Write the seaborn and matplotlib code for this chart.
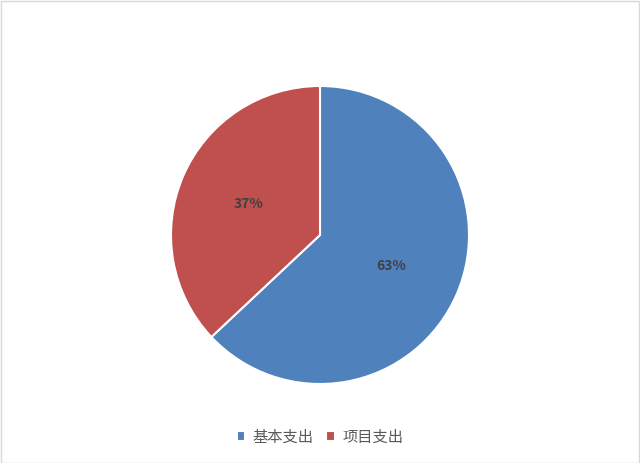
import matplotlib
matplotlib.use('Agg')
import matplotlib.pyplot as plt
import seaborn as sns
from matplotlib.patches import Rectangle

sns.set_style('white')
plt.rcParams['font.family'] = ['Noto Sans CJK SC', 'DejaVu Sans']

# data
categories = ['基本支出', '项目支出']
shares = [63, 37]
colors = ['#4F81BD', '#C0504D']

fig = plt.figure(figsize=(6.4, 4.63), dpi=100)
ax = fig.add_axes([171/640, 1 - 384/463, 298/640, 298/463])

wedges, texts, autotexts = ax.pie(
    shares, colors=colors, startangle=90, counterclock=False,
    autopct='%d%%', pctdistance=0.52, radius=1,
    wedgeprops={'edgecolor': 'white', 'linewidth': 1.5},
    textprops={'color': '#404040', 'fontsize': 10, 'fontweight': 'bold'})
ax.set_xlim(-1, 1)
ax.set_ylim(-1, 1)
ax.set_aspect('equal')
ax.axis('off')

leg = fig.legend(wedges, categories, loc='center', bbox_to_anchor=(0.5, 1 - 437/463),
                 ncol=2, frameon=False, fontsize=11, handlelength=0.55, handleheight=0.55,
                 handletextpad=0.5, columnspacing=0.8)
for t in leg.get_texts():
    t.set_color('#595959')

fig.patches.append(Rectangle((0.001, 0.001), 0.997, 0.997, transform=fig.transFigure,
                             fill=False, edgecolor='#D9D9D9', linewidth=1))

fig.savefig('out.png', dpi=100)
